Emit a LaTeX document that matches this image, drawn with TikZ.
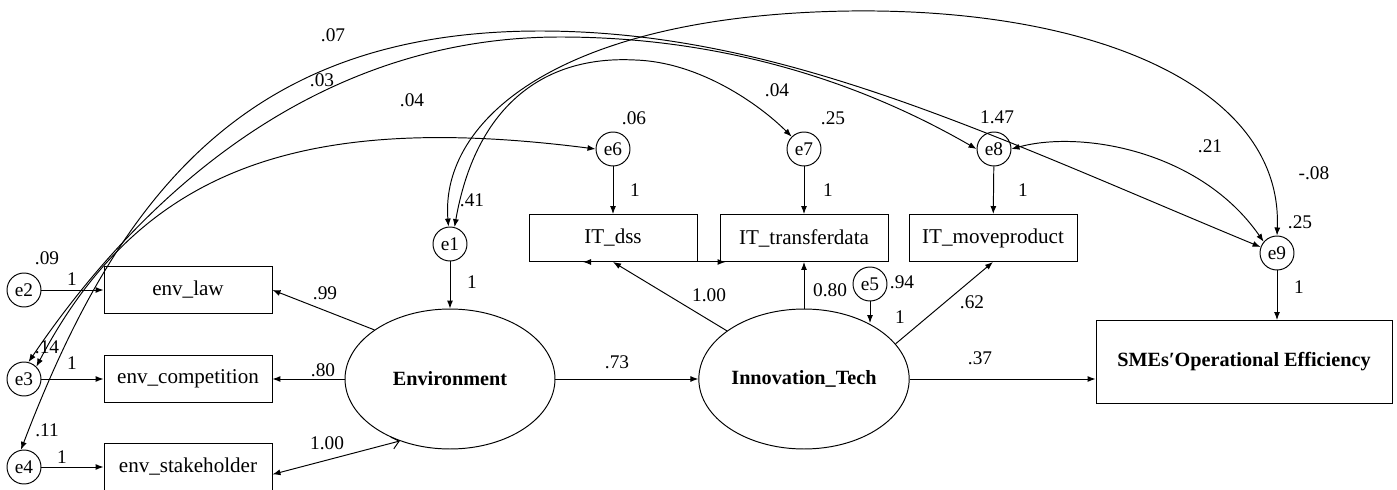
\documentclass[tikz,border=0pt]{standalone}
\usepackage{fontspec}
\setmainfont{Liberation Serif}
\newfontfamily\semfont{Liberation Serif}
\usepackage{tikz}
\usetikzlibrary{arrows.meta,shapes.geometric}
\tikzset{
  obs/.style={draw, rectangle, line width=0.55pt, minimum width=3.36cm, minimum height=0.94cm, inner sep=1pt, font=\semfont\fontsize{12}{14}\selectfont},
  latent/.style={draw, ellipse, line width=0.55pt, minimum width=4.2cm, minimum height=2.8cm, inner sep=1pt, font=\semfont\fontsize{11.5}{14}\selectfont\bfseries},
  err/.style={draw, circle, line width=0.55pt, minimum size=0.68cm, inner sep=0pt, font=\semfont\fontsize{11}{13}\selectfont},
  outc/.style={draw, rectangle, line width=0.55pt, minimum width=5.92cm, minimum height=1.66cm, font=\semfont\fontsize{11.5}{14}\selectfont\bfseries},
  reg/.style={draw, line width=0.55pt, -{Latex[length=1.6mm,width=1.2mm]}},
  cov/.style={draw, line width=0.55pt, {Latex[length=1.6mm,width=1.2mm]}-{Latex[length=1.6mm,width=1.2mm]}},
  lab/.style={font=\semfont\fontsize{11}{13}\selectfont, inner sep=1pt},
}
\begin{document}
\begin{tikzpicture}[x=0.02cm, y=-0.02cm]
\useasboundingbox (0,0) rectangle (1397,490);
\clip (0,0) rectangle (1397,490);

% measurement side
\node[err] (e2) at (24,290) {e2};
\node[err] (e3) at (24,379) {e3};
\node[err] (e4) at (24,467) {e4};
\node[obs] (law) at (188,290) {env\_law};
\node[obs] (comp) at (188,379) {env\_competition};
\node[obs] (stake) at (188,467) {env\_stakeholder};

\node[latent] (env) at (450,379) {Environment};
\node[err] (e1) at (450,244) {e1};
\node[latent] (tech) at (804,379) {Innovation\_Tech};
\node[err] (e5) at (870,284) {e5};

\node[obs] (dss) at (613,238) {IT\_dss};
\node[obs] (trans) at (804,238) {IT\_transferdata};
\node[obs] (move) at (993,238) {IT\_moveproduct};
\node[err] (e6) at (613,149) {e6};
\node[err] (e7) at (804,149) {e7};
\node[err] (e8) at (994,149) {e8};

\node[err] (e9) at (1277,253) {e9};
\node[outc] (sme) at (1244,362) {SMEs′Operational Efficiency};

% paths
\draw[reg] (e2) -- (law);
\draw[reg] (e3) -- (comp);
\draw[reg] (e4) -- (stake);
\draw[reg] (env.147) -- (law.east);
\draw[reg] (env) -- (comp);
\draw[line width=0.55pt, {Straight Barb[length=1.4mm,width=2.4mm]}-{Latex[length=1.6mm,width=1.2mm]}] (env.231.6) -- (stake.-5);
\draw[reg] (e1) -- (env);
\draw[reg] (env) -- (tech);
\draw[reg] (tech.148.7) -- (dss.south);
\draw[reg] (tech) -- (trans);
\draw[reg] (tech.21.6) -- (move.south);
\coordinate (e5tip) at (870,323);
\draw[reg] (e5) -- (e5tip);
\draw[reg] (tech.east) -- (tech.east -| sme.west);
\draw[reg] (e6) -- (dss);
\draw[reg] (e7) -- (trans);
\draw[reg] (e8) -- (move);
\draw[reg] (e9) -- (e9 |- sme.north);
\draw[cov] ([xshift=-0.6cm]dss.south) -- ([xshift=0.12cm]trans.south west);

% covariances
\draw[cov] (e4.100) .. controls (120,190) and (250,31) .. (540,31) .. controls (780,31) and (990,135) .. (e9.160);
\draw[cov] (e3.75) .. controls (145,190) and (320,37) .. (560,37) .. controls (760,37) and (900,105) .. (e8.west);
\draw[cov] (e3.45) .. controls (140,170) and (299,111) .. (e6.west);
\draw[cov] (e1.95) .. controls (440,120) and (560,15) .. (850,11) .. controls (1100,8) and (1283,90) .. (e9.north);
\draw[cov] (e1.75) .. controls (475,110) and (540,55) .. (635,60) .. controls (700,62) and (760,105) .. (e7.135);
\draw[cov] (e8.east) .. controls (1080,130) and (1200,150) .. (e9.140);

% covariance labels
\node[lab] (l07) at (333,35) {.07};
\node[lab] (l03) at (322,80) {.03};
\node[lab] (l04a) at (412,100) {.04};
\node[lab] (l04b) at (777,90) {.04};
\node[lab] (l21) at (1210,146) {.21};
\node[lab] (l08) at (1314,173) {-.08};

% variances
\node[lab] (v1) at (472,200) {.41};
\node[lab] (v2) at (47,258) {.09};
\node[lab] (v3) at (47,347) {.14};
\node[lab] (v4) at (47,430) {.11};
\node[lab] (v5) at (902,282) {.94};
\node[lab] (v6) at (634,118) {.06};
\node[lab] (v7) at (833,118) {.25};
\node[lab] (v8) at (997,117) {1.47};
\node[lab] (v9) at (1300,222) {.25};

% fixed loadings
\node[lab] (f2) at (72,279) {1};
\node[lab] (f3) at (72,363) {1};
\node[lab] (f4) at (62,457) {1};
\node[lab] (f1) at (472,282) {1};
\node[lab] (f6) at (635,190) {1};
\node[lab] (f7) at (828,190) {1};
\node[lab] (f8) at (1023,190) {1};
\node[lab] (f5) at (900,317) {1};
\node[lab] (f9) at (1299,287) {1};

% estimates
\node[lab] (w1) at (325,293) {.99};
\node[lab] (w2) at (323,370) {.80};
\node[lab] (w3) at (327,443) {1.00};
\node[lab] (w4) at (617,362) {.73};
\node[lab] (w5) at (709,295) {1.00};
\node[lab] (w6) at (830,290) {0.80};
\node[lab] (w7) at (972,302) {.62};
\node[lab] (w8) at (980,358) {.37};
\end{tikzpicture}
\end{document}
